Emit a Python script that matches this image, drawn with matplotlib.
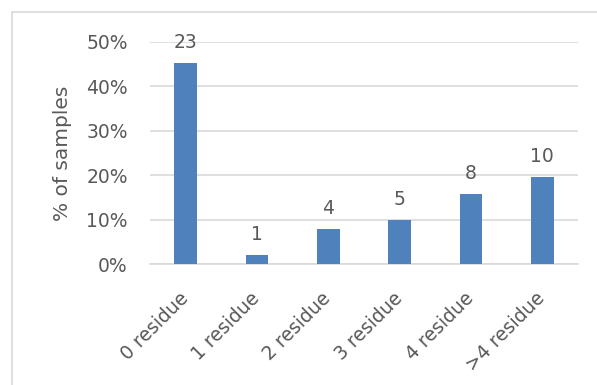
import numpy as np
import matplotlib.pyplot as plt
import matplotlib.transforms as mtransforms
from matplotlib.patches import Rectangle

categories = ['0 residue', '1 residue', '2 residue', '3 residue', '4 residue', '>4 residue']
counts = [23, 1, 4, 5, 8, 10]
percent = [45.1, 2.0, 7.8, 9.8, 15.7, 19.6]

text_col = '#595959'
bar_col = '#4F81BD'
grid_col = '#D9D9D9'

fig = plt.figure(figsize=(5.97, 3.85), dpi=100)
ax = fig.add_axes([150 / 597, 1 - 264 / 385, 428 / 597, (264 - 41.7) / 385])

# chart border like excel
fig.patches.append(Rectangle((11.5 / 597, -0.1), 1.2, 1 - 12 / 385 + 0.1,
                             transform=fig.transFigure, fill=False,
                             edgecolor=grid_col, linewidth=1.2))

x = np.arange(len(categories))
ax.bar(x, percent, width=0.315, color=bar_col, zorder=3)
for xi, p, c in zip(x, percent, counts):
    ax.annotate(str(c), (xi, p), xytext=(0, 8), textcoords='offset points',
                ha='center', va='bottom', fontsize=13.5, color=text_col)

ax.set_xlim(-0.5, len(categories) - 0.5)
ax.set_ylim(0, 50)
ax.set_yticks(np.arange(0, 51, 10))
ax.set_yticklabels(['%d%%' % v for v in range(0, 51, 10)])
ax.yaxis.grid(True, color=grid_col, linewidth=1.2, zorder=0)
ax.set_xticks(x)
ax.set_xticklabels(categories, rotation=45, ha='right', rotation_mode='anchor')
ax.tick_params(length=0, labelsize=13.5, colors=text_col)
ax.tick_params(axis='y', pad=16)
ax.tick_params(axis='x', pad=18)
# nudge the rotated labels a bit to the left
shift = mtransforms.ScaledTranslation(-7 / 100, 0, fig.dpi_scale_trans)
for lab in ax.get_xticklabels():
    lab.set_transform(lab.get_transform() + shift)
for s in ['top', 'right', 'left']:
    ax.spines[s].set_visible(False)
ax.spines['bottom'].set_color(grid_col)
ax.spines['bottom'].set_linewidth(1.2)
ax.set_ylabel('% of samples', fontsize=14.5, color=text_col, labelpad=10)

plt.savefig('out.png', dpi=100)
